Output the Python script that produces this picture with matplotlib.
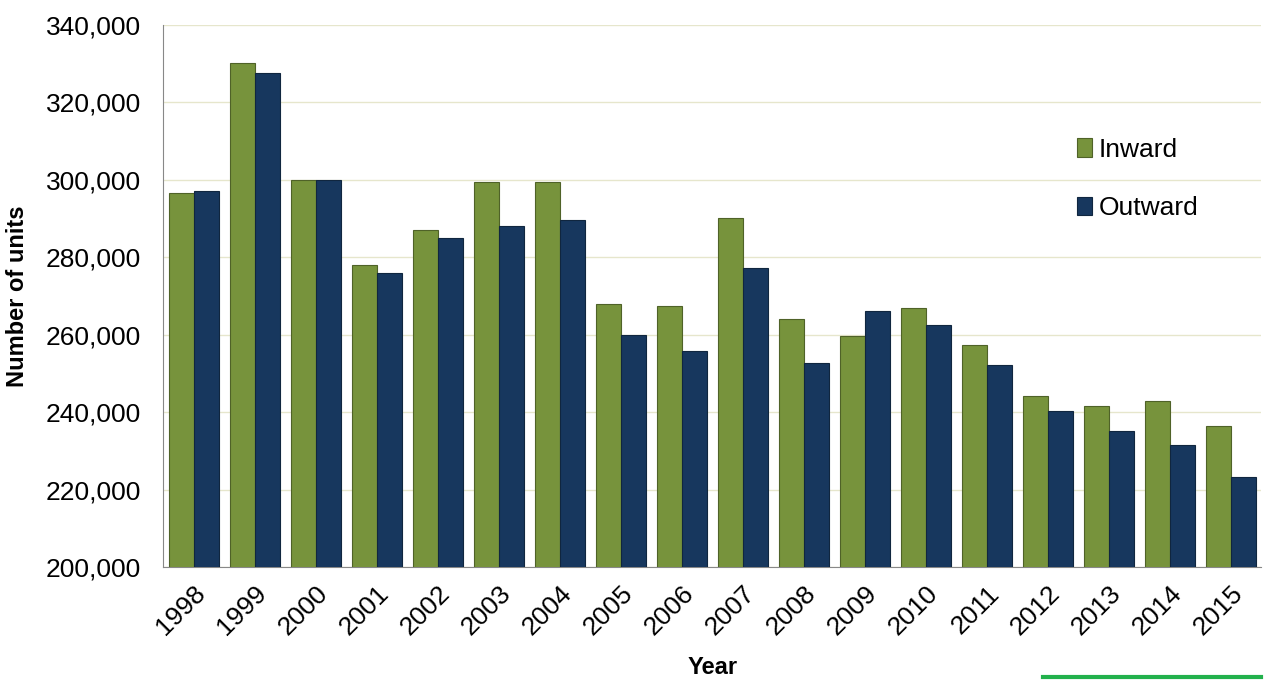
import matplotlib
matplotlib.use("Agg")
import matplotlib.pyplot as plt
import numpy as np

plt.rcParams['font.family'] = ['Liberation Sans', 'DejaVu Sans']

years = [str(y) for y in range(1998, 2016)]
inward = [296500, 330200, 300000, 278000, 287000, 299300, 299500, 267800, 267300,
          290000, 264000, 259600, 266800, 257400, 244300, 241700, 243000, 236400]
outward = [297000, 327500, 300000, 275800, 285000, 288000, 289500, 260000, 255700,
           277200, 252700, 266200, 262600, 252100, 240300, 235200, 231500, 223200]

fig = plt.figure(figsize=(12.64, 6.81), dpi=100)
ax = fig.add_axes([0.129, 0.167, 0.869, 0.797])
x = np.arange(len(years))
w = 0.41
ax.bar(x - w / 2, inward, w, color='#77933C', edgecolor='#4F6228', linewidth=0.8,
       label='Inward', zorder=3)
ax.bar(x + w / 2, outward, w, color='#17375E', edgecolor='#10263F', linewidth=0.8,
       label='Outward', zorder=3)

ax.set_ylim(200000, 340000)
ax.set_xlim(-0.5, len(years) - 0.5)
ax.set_yticks(range(200000, 340001, 20000))
ax.yaxis.set_major_formatter(matplotlib.ticker.FuncFormatter(lambda v, p: f'{int(v):,}'))
ax.grid(axis='y', color='#E6E6CC', linewidth=1, zorder=0)
ax.set_xticks(x)
ax.set_xticklabels(years, rotation=45, ha='right', rotation_mode='anchor')
ax.tick_params(axis='both', labelsize=19, length=0)
ax.tick_params(axis='x', pad=10)
ax.tick_params(axis='y', pad=16)
for s in ['top', 'right']:
    ax.spines[s].set_visible(False)
ax.spines['left'].set_color('#888888')
ax.spines['bottom'].set_color('#888888')
ax.set_xlabel('Year', fontsize=17, fontweight='bold', labelpad=12)
ax.set_ylabel('Number of units', fontsize=17, fontweight='bold', labelpad=12)
ax.legend(loc='upper left', bbox_to_anchor=(0.81, 0.835), frameon=False, fontsize=19,
          labelspacing=1.3, handlelength=0.6, handletextpad=0.25)

fig.add_artist(plt.Line2D([0.825, 0.998], [0.006, 0.006], color='#22B14C', linewidth=3))
fig.savefig('out.png', dpi=100)
